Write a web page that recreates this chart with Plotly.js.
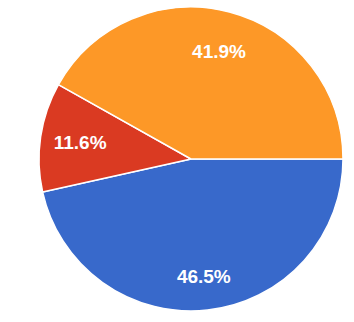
<!DOCTYPE html>
<html>
<head>
<meta charset="utf-8">
<script src="https://cdn.plot.ly/plotly-3.0.1.min.js"></script>
<style>html,body{margin:0;padding:0;background:#fff;}#chart{width:354px;height:322px;}</style>
</head>
<body>
<div id="chart"></div>
<script>
const labels = ["A", "B", "C"];
const values = [20, 5, 18];
const colors = ["#3869cb", "#da3a22", "#fd9827"];

const W = 354, H = 322;
const cx = 191, cy = 159, r = 152;
const dom = {x: [(cx - r) / W, (cx + r) / W], y: [1 - (cy + r) / H, 1 - (cy - r) / H]};

const common = {
  type: 'pie',
  labels: labels,
  values: values,
  sort: false,
  direction: 'clockwise',
  rotation: 90,
  hoverinfo: 'none',
  domain: dom
};

// one transparent ring per slice, only to place that slice's label
const holes = [0.55, 0.36, 0.46];
const labelTraces = holes.map((h, i) => Object.assign({}, common, {
  hole: h,
  marker: {colors: labels.map(() => 'rgba(0,0,0,0)'), line: {width: 0}},
  texttemplate: labels.map((_, j) => j === i ? '%{percent:.1%}' : ''),
  textposition: 'inside',
  insidetextorientation: 'horizontal',
  textfont: {family: 'Liberation Sans, Arial, sans-serif', size: 19, color: '#ffffff', weight: 'bold'}
}));

Plotly.newPlot('chart', [
  Object.assign({}, common, {
    marker: {colors: colors, line: {color: '#ffffff', width: 1.5}},
    textinfo: 'none'
  })
].concat(labelTraces), {
  width: W, height: H,
  margin: {l: 0, r: 0, t: 0, b: 0},
  showlegend: false,
  paper_bgcolor: '#ffffff'
}, {displayModeBar: false, staticPlot: true});
</script>
</body>
</html>
